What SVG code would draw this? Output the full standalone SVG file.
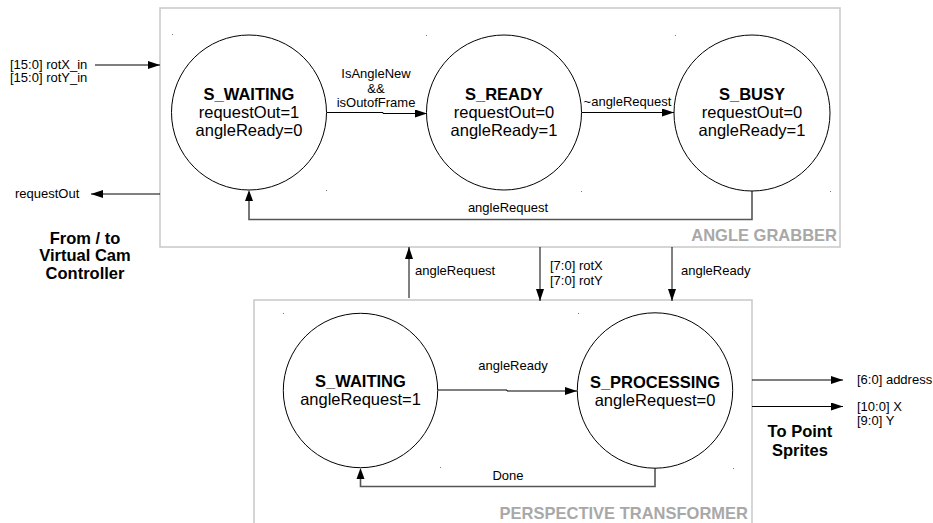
<svg xmlns="http://www.w3.org/2000/svg" width="933" height="523" viewBox="0 0 933 523">
  <defs>
    <marker id="arrow" viewBox="0 0 12 8" refX="12" refY="4" markerWidth="12" markerHeight="8" markerUnits="userSpaceOnUse" orient="auto">
      <path d="M0,0 L12,4 L0,8 Z" fill="#000"/>
    </marker>
  </defs>
  <style>
    text { font-family: "Liberation Sans", Arial, sans-serif; fill: #000; }
    .state { fill: #fff; stroke: #000; stroke-width: 1; }
    .name { font-size: 16.5px; font-weight: bold; text-anchor: middle; }
    .out { font-size: 16.5px; text-anchor: middle; }
    .lbl { font-size: 13px; }
    .mid { text-anchor: middle; }
    .block { fill: #fff; stroke: #c8c8c8; stroke-width: 1.5; }
    .title { font-size: 16.5px; font-weight: bold; fill: #a8a8a8; text-anchor: end; }
    .note { font-size: 16.5px; font-weight: bold; text-anchor: middle; }
    .wire { fill: none; stroke: #000; stroke-width: 1; marker-end: url(#arrow); }
    .loop { fill: none; stroke: #555; stroke-width: 1.6; }
    .dot { fill: #777; }
  </style>

  <!-- module outlines -->
  <g id="angle-grabber">
    <rect class="block" x="160" y="8" width="680" height="239"/>
    <text class="title" x="837" y="241">ANGLE GRABBER</text>
  </g>
  <g id="perspective-transformer">
    <rect class="block" x="254" y="300" width="498" height="240"/>
    <text class="title" x="748" y="519">PERSPECTIVE TRANSFORMER</text>
  </g>

  <!-- bounding-box corner ticks -->
  <g id="ticks">
    <rect class="dot" x="172" y="34" width="1" height="1"/>
    <rect class="dot" x="426" y="35" width="1" height="1"/>
    <rect class="dot" x="326" y="190" width="1" height="1"/>
    <rect class="dot" x="675" y="35" width="1" height="1"/>
    <rect class="dot" x="581" y="191" width="1" height="1"/>
    <rect class="dot" x="830" y="191" width="1" height="1"/>
    <rect class="dot" x="283" y="313" width="1" height="1"/>
    <rect class="dot" x="578" y="313" width="1" height="1"/>
    <rect class="dot" x="440" y="467" width="1" height="1"/>
    <rect class="dot" x="733" y="468" width="1" height="1"/>
  </g>

  <!-- connectors -->
  <g id="connectors">
    <!-- angle grabber transitions -->
    <path class="wire" d="M327,112.5 H383 V113.5 H427"/>
    <path class="wire" d="M582,112.5 H674"/>
    <path class="loop" d="M752,191 V219.5 H249 V200"/>
    <path d="M249,190 L245,201 L253,201 Z" fill="#000"/>

    <!-- external ports of the angle grabber -->
    <path class="wire" d="M95,65 H160"/>
    <path class="wire" d="M160,194 H91"/>

    <!-- links between the two modules -->
    <path class="wire" d="M409,298 V247"/>
    <path class="wire" d="M540,247 V301"/>
    <path class="wire" d="M672,247 V301"/>

    <!-- perspective transformer transitions -->
    <path class="wire" d="M438,390 H507 V391 H577"/>
    <path class="loop" d="M655,468 V486.5 H360.5 V479"/>
    <path d="M360.5,468 L356.5,479 L364.5,479 Z" fill="#000"/>

    <!-- outputs -->
    <path class="wire" d="M752,380 H843"/>
    <path class="wire" d="M752,406.5 H843"/>
  </g>

  <!-- connector labels -->
  <g id="labels">
    <text class="lbl mid" x="376" y="78">IsAngleNew</text>
    <text class="lbl mid" x="376" y="92.5">&amp;&amp;</text>
    <text class="lbl mid" x="376" y="107">isOutofFrame</text>
    <text class="lbl mid" x="627.5" y="106">~angleRequest</text>
    <text class="lbl mid" x="508" y="211.5">angleRequest</text>

    <text class="lbl" x="10" y="68.5">[15:0] rotX_in</text>
    <text class="lbl" x="10" y="82">[15:0] rotY_in</text>
    <text class="lbl" x="15" y="198">requestOut</text>
    <text class="note" x="85" y="244">From / to</text>
    <text class="note" x="85" y="261">Virtual Cam</text>
    <text class="note" x="85" y="278.5">Controller</text>

    <text class="lbl" x="415" y="275">angleRequest</text>
    <text class="lbl" x="550" y="269.5">[7:0] rotX</text>
    <text class="lbl" x="550" y="285">[7:0] rotY</text>
    <text class="lbl" x="681" y="275">angleReady</text>

    <text class="lbl mid" x="513" y="370">angleReady</text>
    <text class="lbl mid" x="508" y="479.5">Done</text>

    <text class="lbl" x="857" y="384">[6:0] address</text>
    <text class="lbl" x="857" y="410.5">[10:0] X</text>
    <text class="lbl" x="857" y="424.5">[9:0] Y</text>
    <text class="note" x="800" y="437">To Point</text>
    <text class="note" x="800" y="456">Sprites</text>
  </g>

  <!-- angle grabber states -->
  <g id="ag-waiting">
    <circle class="state" cx="249" cy="112.5" r="77.5"/>
    <text class="name" x="249" y="100">S_WAITING</text>
    <text class="out" x="249" y="118">requestOut=1</text>
    <text class="out" x="249" y="136">angleReady=0</text>
  </g>
  <g id="ag-ready">
    <circle class="state" cx="504" cy="112.5" r="77.5"/>
    <text class="name" x="504" y="100">S_READY</text>
    <text class="out" x="504" y="118">requestOut=0</text>
    <text class="out" x="504" y="136">angleReady=1</text>
  </g>
  <g id="ag-busy">
    <circle class="state" cx="752" cy="113" r="78"/>
    <text class="name" x="752" y="100">S_BUSY</text>
    <text class="out" x="752" y="118">requestOut=0</text>
    <text class="out" x="752" y="136">angleReady=1</text>
  </g>

  <!-- perspective transformer states -->
  <g id="pt-waiting">
    <circle class="state" cx="360.5" cy="390.5" r="77.2"/>
    <text class="name" x="360.5" y="387">S_WAITING</text>
    <text class="out" x="360.5" y="405">angleRequest=1</text>
  </g>
  <g id="pt-processing">
    <circle class="state" cx="655" cy="390.5" r="77.7"/>
    <text class="name" x="655" y="387.5">S_PROCESSING</text>
    <text class="out" x="655" y="405.5">angleRequest=0</text>
  </g>
</svg>
